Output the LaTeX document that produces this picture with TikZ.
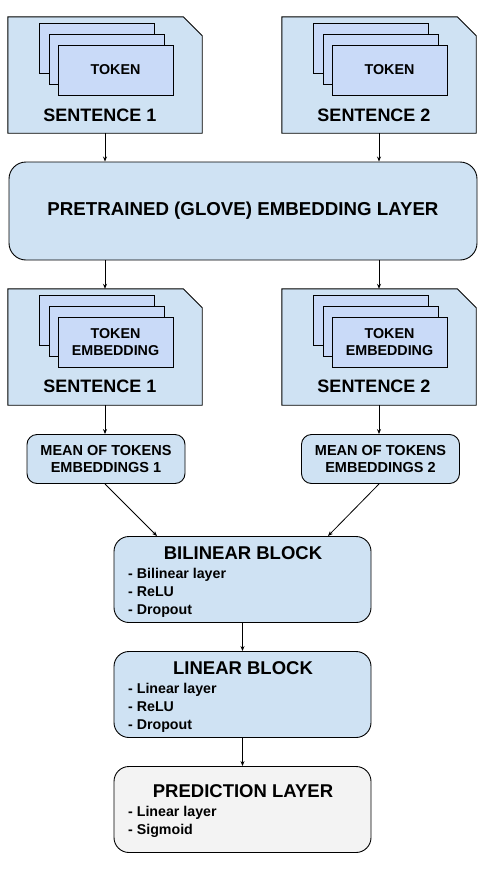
\documentclass[tikz,border=0pt]{standalone}
\usepackage{fontspec}
\setmainfont{Liberation Sans}
\usetikzlibrary{arrows.meta}
\definecolor{boxblue}{HTML}{CFE2F3}
\definecolor{tokblue}{HTML}{C9DAF8}
\definecolor{predgrey}{HTML}{F3F3F3}
\tikzset{
  x=1pt, y=-1pt,
  line/.style={draw=black, line width=0.9pt},
  sentframe/.style={draw=none, minimum width=194pt, minimum height=116pt, inner sep=0pt},
  tokrect/.style={line, fill=tokblue, minimum width=115pt, minimum height=50pt, inner sep=0pt, font=\bfseries\fontsize{14.3}{16.5}\selectfont, align=center},
  senttext/.style={font=\bfseries\fontsize{18}{20}\selectfont, inner sep=0pt},
  embbox/.style={line, fill=boxblue, rounded corners=17pt, minimum width=468pt, minimum height=98pt, inner sep=0pt, font=\bfseries\fontsize{18.7}{20}\selectfont},
  meanbox/.style={line, fill=boxblue, rounded corners=10pt, minimum width=158pt, minimum height=49pt, inner sep=0pt, align=center, font=\bfseries\fontsize{14.5}{17}\selectfont},
  blockbox/.style={line, fill=boxblue, rounded corners=15pt, minimum width=257pt, minimum height=86pt, inner sep=0pt},
  blocktitle/.style={font=\bfseries\fontsize{18.5}{20}\selectfont, inner sep=0pt},
  blockitems/.style={font=\bfseries\fontsize{14.2}{18}\selectfont, inner sep=0pt, align=left, anchor=north west},
  arr/.style={draw=black, line width=0.8pt, -{Stealth[length=5pt,width=4pt]}}
}
\newcommand{\sentshape}[1]{%
  \draw[line, fill=boxblue] (#1.south west) -- (#1.north west) -- ([xshift=-19pt]#1.north east) -- ([yshift=-19pt]#1.north east) -- (#1.south east) -- cycle;}
\begin{document}
\begin{tikzpicture}
\useasboundingbox (0,0) rectangle (486,870);
% ---- top sentence boxes
\node[sentframe] (s1) at (105,75) {};
\sentshape{s1}
\node[tokrect] (s1a) at (96.5,48) {};
\node[tokrect] (s1b) at (106.5,59) {};
\node[tokrect] (s1c) at (115.5,70) {TOKEN};
\node[senttext] (s1t) at (100,115) {SENTENCE 1};

\node[sentframe] (s2) at (379,75) {};
\sentshape{s2}
\node[tokrect] (s2a) at (370.5,48) {};
\node[tokrect] (s2b) at (380.5,59) {};
\node[tokrect] (s2c) at (389.5,70) {TOKEN};
\node[senttext] (s2t) at (374,115) {SENTENCE 2};

% ---- embedding layer
\node[embbox] (emb) at (243,211) {PRETRAINED (GLOVE) EMBEDDING LAYER};

% ---- embedded sentence boxes
\node[sentframe] (e1) at (105,347) {};
\sentshape{e1}
\node[tokrect] (e1a) at (96.5,320.5) {};
\node[tokrect] (e1b) at (106.5,331) {};
\node[tokrect] (e1c) at (115.5,342) {TOKEN\\EMBEDDING};
\node[senttext] (e1t) at (100,386) {SENTENCE 1};

\node[sentframe] (e2) at (379,347) {};
\sentshape{e2}
\node[tokrect] (e2a) at (370.5,320.5) {};
\node[tokrect] (e2b) at (380.5,331) {};
\node[tokrect] (e2c) at (389.5,342) {TOKEN\\EMBEDDING};
\node[senttext] (e2t) at (374,386) {SENTENCE 2};

% ---- mean boxes
\node[meanbox] (m1) at (106,459) {MEAN OF TOKENS\\EMBEDDINGS 1};
\node[meanbox] (m2) at (380.5,459) {MEAN OF TOKENS\\EMBEDDINGS 2};

% ---- blocks
\node[blockbox] (bil) at (242.5,579.5) {};
\node[blocktitle] at (243,553) {BILINEAR BLOCK};
\node[blockitems] at (128,568) {- Bilinear layer\\- ReLU\\- Dropout};

\node[blockbox] (lin) at (242.5,694.5) {};
\node[blocktitle] at (243,668) {LINEAR BLOCK};
\node[blockitems] at (128,683) {- Linear layer\\- ReLU\\- Dropout};

\node[blockbox, fill=predgrey] (pred) at (242.5,809.5) {};
\node[blocktitle] at (243,791) {PREDICTION LAYER};
\node[blockitems] at (128,806) {- Linear layer\\- Sigmoid};

% ---- connectors
\draw[arr] (s1.south) -- (s1.south |- emb.north);
\draw[arr] (s2.south) -- (s2.south |- emb.north);
\draw[arr] (emb.south -| e1.north) -- (e1.north);
\draw[arr] (emb.south -| e2.north) -- (e2.north);
\draw[arr] (e1.south) -- (e1.south |- m1.north);
\draw[arr] (e2.south) -- (e2.south |- m2.north);
\coordinate (m1out) at (105,484);
\coordinate (m2out) at (379,484);
\coordinate (bilin1) at (157,536);
\coordinate (bilin2) at (328,536);
\draw[arr] (m1out) -- (bilin1);
\draw[arr] (m2out) -- (bilin2);
\draw[arr] (bil.south) -- (lin.north);
\draw[arr] (lin.south) -- (pred.north);
\end{tikzpicture}
\end{document}
